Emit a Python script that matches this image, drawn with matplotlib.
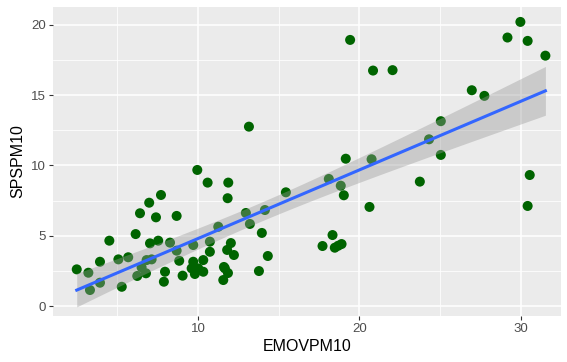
import numpy as np
import matplotlib
matplotlib.use("Agg")
import matplotlib.pyplot as plt

# values
EMOVPM10 = [2.49, 3.21, 3.31, 3.93, 3.93, 4.51, 5.07, 5.28, 5.68, 6.14,
            6.24, 6.41, 6.51, 6.82, 6.78, 6.98, 7.03, 7.13, 7.40, 7.54,
            7.71, 7.89, 7.96, 8.27, 8.68, 8.68, 8.84, 9.05, 9.61, 9.71,
            9.71, 9.81, 10.02, 10.33, 10.33, 9.96, 10.60, 11.88, 11.84, 10.74,
            10.74, 11.26, 11.67, 11.57, 11.81, 12.97, 14.15, 13.22, 13.96, 12.04,
            12.23, 14.33, 11.61, 11.86, 13.78, 15.45, 13.16, 18.11, 18.85, 19.04,
            19.16, 20.76, 20.63, 18.34, 17.72, 18.48, 18.90, 18.69, 19.43, 20.85,
            22.06, 23.75, 24.32, 25.05, 25.05, 26.97, 27.75, 29.18, 29.98, 30.43,
            31.53, 30.56, 30.43]
SPSPM10 = [2.61, 2.37, 1.14, 3.15, 1.66, 4.65, 3.32, 1.37, 3.47, 5.12,
           2.14, 6.60, 2.75, 3.27, 2.33, 7.35, 4.46, 3.32, 6.31, 4.65,
           7.90, 1.73, 2.44, 4.51, 6.41, 3.94, 3.22, 2.16, 2.68, 4.34,
           3.15, 2.28, 2.68, 3.27, 2.44, 9.68, 8.78, 8.78, 7.67, 4.58,
           3.86, 5.64, 2.68, 1.85, 3.99, 6.62, 6.83, 5.84, 5.20, 4.48,
           3.63, 3.56, 2.78, 2.35, 2.49, 8.09, 12.76, 9.04, 8.56, 7.88,
           10.48, 10.44, 7.05, 5.05, 4.27, 4.15, 4.41, 4.29, 18.93, 16.75,
           16.78, 8.85, 11.86, 13.15, 10.75, 15.35, 14.95, 19.10, 20.21, 18.86,
           17.81, 9.32, 7.12]

x = np.array(EMOVPM10)
y = np.array(SPSPM10)

# linear fit with 95% confidence band, like geom_smooth(method="lm")
slope, intercept = np.polyfit(x, y, 1)
n = len(x)
resid = y - (intercept + slope * x)
s = np.sqrt(np.sum(resid**2) / (n - 2))
xs = np.linspace(x.min(), x.max(), 80)
ys = intercept + slope * xs
se = s * np.sqrt(1.0 / n + (xs - x.mean())**2 / np.sum((x - x.mean())**2))
t = 1.99
lower = ys - t * se
upper = ys + t * se

plt.rcParams['font.family'] = ['Liberation Sans', 'DejaVu Sans']

fig = plt.figure(figsize=(5.67, 3.62), dpi=100)
ax = fig.add_axes([0.0935, 0.127, 0.896, 0.854])
ax.set_facecolor('#EBEBEB')

ax.set_xlim(1.02, 32.5)
ax.set_ylim(-0.71, 21.28)
ax.set_xticks([10, 20, 30])
ax.set_yticks([0, 5, 10, 15, 20])
ax.set_xticks([5, 15, 25], minor=True)
ax.set_yticks([2.5, 7.5, 12.5, 17.5], minor=True)
ax.grid(True, which='major', color='white', linewidth=1.1)
ax.grid(True, which='minor', color='white', linewidth=0.55)
ax.set_axisbelow(True)
for sp in ax.spines.values():
    sp.set_visible(False)
ax.tick_params(which='major', length=3, width=0.8, color='#333333',
               labelcolor='#4D4D4D', labelsize=9.5, pad=2)
ax.tick_params(which='minor', length=0)

ax.scatter(x, y, s=52, color='#006400', edgecolors='none', zorder=2)
ax.fill_between(xs, lower, upper, color='#999999', alpha=0.4,
                linewidth=0, zorder=3)
ax.plot(xs, ys, color='#3366FF', linewidth=2.2, zorder=4)

ax.set_xlabel('EMOVPM10', fontsize=11.5, labelpad=3)
ax.set_ylabel('SPSPM10', fontsize=11.5, labelpad=4)

fig.savefig('out.png', dpi=100)
